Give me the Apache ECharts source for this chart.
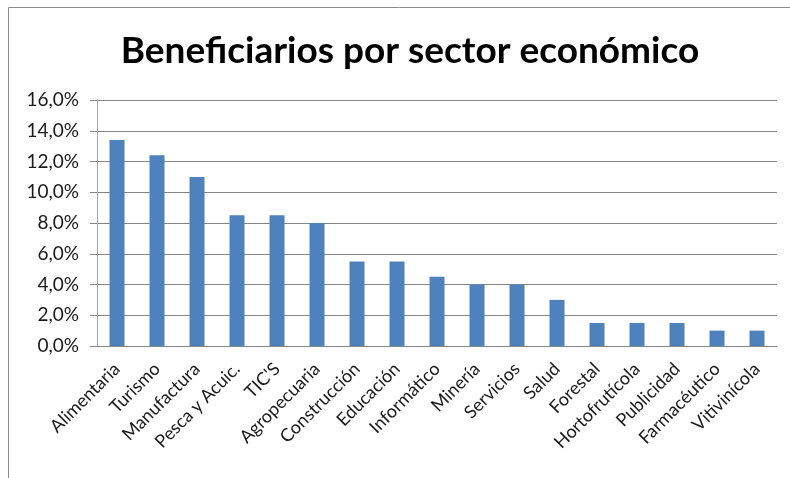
<!DOCTYPE html>
<html>
<head>
<meta charset="utf-8">
<script src="https://cdn.jsdelivr.net/npm/echarts@6/dist/echarts.min.js"></script>
<style>
  html, body { margin: 0; padding: 0; background: #ffffff; }
  #chart { width: 790px; height: 478px; }
</style>
</head>
<body>
<div id="chart"></div>
<script>
// Share of beneficiaries per economic sector (percent)
const sectors = [
  'Alimentaria', 'Turismo', 'Manufactura', 'Pesca y Acuic.', "TIC'S",
  'Agropecuaria', 'Construcción', 'Educación', 'Informático', 'Minería',
  'Servicios', 'Salud', 'Forestal', 'Hortofrutícola', 'Publicidad',
  'Farmacéutico', 'Vitivinícola'
];
const shares = [13.4, 12.4, 11.0, 8.5, 8.5, 8.0, 5.5, 5.5, 4.5, 4.0, 4.0, 3.0, 1.5, 1.5, 1.5, 1.0, 1.0];
const yTicks = { min: 0, max: 16, step: 2 };

const chart = echarts.init(document.getElementById('chart'), null, { renderer: 'canvas' });
const labelFont = 'Lato, "Open Sans", sans-serif';

chart.setOption({
  backgroundColor: '#ffffff',
  animation: false,
  title: {
    text: 'Beneficiarios por sector económico',
    left: 405,
    top: 28,
    textAlign: 'center',
    textStyle: { fontFamily: labelFont, fontWeight: 'bold', fontSize: 37, color: '#000000' }
  },
  graphic: [{
    type: 'rect',
    shape: { x: 8.5, y: 7.5, width: 800, height: 500 },
    style: { fill: 'none', stroke: '#8c8c8c', lineWidth: 1 },
    silent: true
  }],
  grid: { left: 97, right: 13, top: 100, bottom: 132, containLabel: false },
  xAxis: {
    type: 'category',
    data: sectors,
    axisLine: { lineStyle: { color: '#868686', width: 1 } },
    axisTick: { show: false },
    axisLabel: {
      interval: 0,
      rotate: 45,
      margin: 20,
      fontFamily: labelFont,
      fontSize: 18,
      color: '#1a1a1a'
    }
  },
  yAxis: {
    type: 'value',
    min: yTicks.min,
    max: yTicks.max,
    interval: yTicks.step,
    axisLine: { show: true, lineStyle: { color: '#a6a6a6', width: 1 } },
    axisTick: { show: true, length: 7, lineStyle: { color: '#868686' } },
    splitLine: { lineStyle: { color: '#868686', width: 1 } },
    axisLabel: {
      margin: 18,
      fontFamily: labelFont,
      fontSize: 19,
      color: '#1a1a1a',
      formatter: v => v.toFixed(1).replace('.', ',') + '%'
    }
  },
  series: [{
    type: 'bar',
    data: shares,
    barWidth: 15,
    itemStyle: { color: '#4f81bd' }
  }]
});
</script>
</body>
</html>
